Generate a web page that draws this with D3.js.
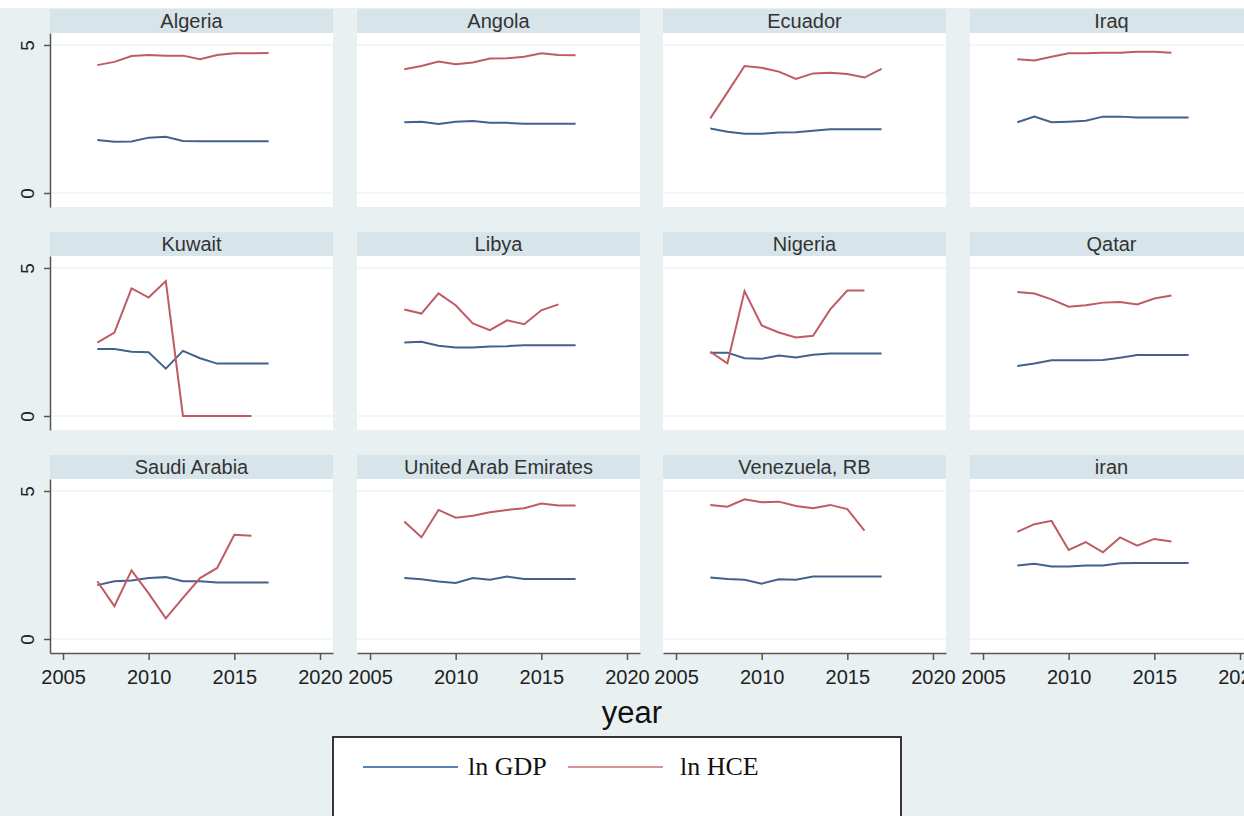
<!DOCTYPE html>
<html lang="en">
<head>
<meta charset="UTF-8">
<title>ln GDP and ln HCE by country</title>
<style>
  body { margin: 0; background: #e8f0f2; }
  svg { display: block; }
</style>
</head>
<body>
<svg id="chart" width="1244" height="816"></svg>
<script src="https://d3js.org/d3.v7.min.js"></script>
<script>
// country panels, in grid order
const countries = ["Algeria", "Angola", "Ecuador", "Iraq",
                   "Kuwait", "Libya", "Nigeria", "Qatar",
                   "Saudi Arabia", "United Arab Emirates", "Venezuela, RB", "iran"];
const years = [2007, 2008, 2009, 2010, 2011, 2012, 2013, 2014, 2015, 2016, 2017];

// ln GDP per country (2007-2017)
const gdp = [
  [1.79, 1.73, 1.74, 1.87, 1.90, 1.76, 1.75, 1.75, 1.75, 1.75, 1.75],
  [2.39, 2.41, 2.33, 2.41, 2.43, 2.37, 2.37, 2.34, 2.34, 2.34, 2.34],
  [2.18, 2.07, 2.00, 2.00, 2.04, 2.05, 2.10, 2.15, 2.15, 2.15, 2.15],
  [2.39, 2.58, 2.39, 2.41, 2.44, 2.58, 2.58, 2.55, 2.55, 2.55, 2.55],
  [2.26, 2.26, 2.17, 2.15, 1.60, 2.20, 1.95, 1.77, 1.77, 1.77, 1.77],
  [2.48, 2.51, 2.37, 2.31, 2.31, 2.35, 2.36, 2.39, 2.39, 2.39, 2.39],
  [2.14, 2.14, 1.95, 1.93, 2.04, 1.98, 2.07, 2.11, 2.11, 2.11, 2.11],
  [1.69, 1.77, 1.88, 1.88, 1.88, 1.89, 1.97, 2.06, 2.06, 2.06, 2.06],
  [1.82, 1.95, 1.98, 2.06, 2.09, 1.95, 1.95, 1.91, 1.91, 1.91, 1.91],
  [2.06, 2.02, 1.94, 1.89, 2.06, 2.00, 2.11, 2.03, 2.03, 2.03, 2.03],
  [2.08, 2.03, 2.00, 1.87, 2.02, 2.00, 2.11, 2.11, 2.11, 2.11, 2.11],
  [2.48, 2.54, 2.45, 2.45, 2.48, 2.48, 2.56, 2.57, 2.57, 2.57, 2.57]
];

// ln HCE per country (from 2007; some end in 2016)
const hce = [
  [4.32, 4.43, 4.63, 4.66, 4.64, 4.64, 4.52, 4.66, 4.72, 4.72, 4.73],
  [4.18, 4.29, 4.44, 4.35, 4.41, 4.54, 4.55, 4.60, 4.72, 4.66, 4.65],
  [2.52, 3.40, 4.29, 4.23, 4.10, 3.85, 4.04, 4.06, 4.02, 3.90, 4.19],
  [4.52, 4.48, 4.60, 4.72, 4.72, 4.74, 4.74, 4.77, 4.77, 4.74],
  [2.48, 2.82, 4.31, 4.00, 4.56, 0.00, 0.00, 0.00, 0.00, 0.00],
  [3.60, 3.46, 4.14, 3.74, 3.13, 2.90, 3.23, 3.10, 3.57, 3.77],
  [2.17, 1.78, 4.22, 3.06, 2.82, 2.65, 2.71, 3.60, 4.24, 4.24],
  [4.19, 4.14, 3.94, 3.69, 3.74, 3.83, 3.85, 3.77, 3.97, 4.07],
  [1.95, 1.11, 2.32, 1.54, 0.70, 1.39, 2.06, 2.40, 3.52, 3.49],
  [3.97, 3.44, 4.36, 4.10, 4.16, 4.28, 4.36, 4.42, 4.58, 4.51, 4.51],
  [4.53, 4.47, 4.72, 4.62, 4.64, 4.49, 4.42, 4.53, 4.39, 3.66],
  [3.62, 3.88, 3.99, 3.01, 3.27, 2.93, 3.43, 3.15, 3.38, 3.29]
];

const xTicks = [2005, 2010, 2015, 2020];
const yTicks = [0, 5];
const legendLabels = ["ln GDP", "ln HCE"];

const colors = { gdp: "#41628c", hce: "#bf5b63" };
const legendColors = ["#5b82b8", "#dc9197"];

const panelW = 283, headH = 24, plotH = 174;
const colX = [50, 357, 663, 970];
const rowY = [9, 232, 455];

const x = d3.scaleLinear().domain([2004.24, 2020.76]).range([0, panelW]);
const y = d3.scaleLinear().domain([-0.473, 5.405]).range([plotH, 0]);

const svg = d3.select("#chart");

svg.append("rect")
    .attr("width", 1244).attr("height", 816)
    .attr("fill", "#e8f0f2");
svg.append("rect")
    .attr("width", 1244).attr("height", 8)
    .attr("fill", "#ffffff");

const line = d3.line()
    .x((d, i) => x(years[i]))
    .y(d => y(d));

countries.forEach((name, k) => {
    const col = k % 4, row = Math.floor(k / 4);
    const g = svg.append("g")
        .attr("transform", `translate(${colX[col]},${rowY[row]})`);

    // strip header
    g.append("rect")
        .attr("width", panelW).attr("height", headH)
        .attr("fill", "#d7e4ea");
    g.append("text")
        .attr("x", panelW / 2).attr("y", headH / 2)
        .attr("dy", "0.36em")
        .attr("text-anchor", "middle")
        .style("font-family", "'Liberation Sans', Arial, sans-serif")
        .style("font-size", "20px")
        .style("fill", "#333")
        .text(name);

    const p = g.append("g").attr("transform", `translate(0,${headH})`);
    p.append("rect")
        .attr("width", panelW).attr("height", plotH)
        .attr("fill", "#ffffff");

    p.selectAll("line.grid")
        .data(yTicks)
        .enter().append("line")
        .attr("class", "grid")
        .attr("x1", 0).attr("x2", panelW)
        .attr("y1", d => y(d)).attr("y2", d => y(d))
        .attr("stroke", "#e5edf0")
        .attr("stroke-width", 1.2);

    p.append("path")
        .datum(gdp[k])
        .attr("d", line)
        .attr("fill", "none")
        .attr("stroke", colors.gdp)
        .attr("stroke-width", 2);

    p.append("path")
        .datum(hce[k])
        .attr("d", line)
        .attr("fill", "none")
        .attr("stroke", colors.hce)
        .attr("stroke-width", 2);

    if (col === 0) {
        const ya = p.append("g")
            .call(d3.axisLeft(y).tickValues(yTicks).tickFormat(d3.format("d"))
                .tickSize(6).tickSizeOuter(0));
        ya.select(".domain").attr("stroke", "#555").attr("stroke-width", 1.5);
        ya.selectAll(".tick line").attr("stroke", "#555").attr("stroke-width", 1.5);
        ya.selectAll(".tick text")
            .attr("x", null).attr("dy", null)
            .attr("text-anchor", "middle")
            .attr("transform", "translate(-16,0) rotate(-90)")
            .style("font-family", "'Liberation Sans', Arial, sans-serif")
            .style("font-size", "19px")
            .style("fill", "#222");
    }

    if (row === 2) {
        const xa = p.append("g")
            .attr("transform", `translate(0,${plotH})`)
            .call(d3.axisBottom(x).tickValues(xTicks).tickFormat(d3.format("d"))
                .tickSize(7).tickSizeOuter(0));
        xa.select(".domain").attr("stroke", "#555").attr("stroke-width", 1.5);
        xa.selectAll(".tick line").attr("stroke", "#555").attr("stroke-width", 1.5);
        xa.selectAll(".tick text")
            .attr("y", 17)
            .style("font-family", "'Liberation Sans', Arial, sans-serif")
            .style("font-size", "20px")
            .style("fill", "#222");
    }
});

// x title
svg.append("text")
    .attr("x", 632).attr("y", 723)
    .attr("text-anchor", "middle")
    .style("font-family", "'Liberation Sans', Arial, sans-serif")
    .style("font-size", "31px")
    .style("fill", "#111")
    .text("year");

// legend
const leg = svg.append("g");
leg.append("rect")
    .attr("x", 333).attr("y", 737)
    .attr("width", 568).attr("height", 100)
    .attr("fill", "#ffffff")
    .attr("stroke", "#222")
    .attr("stroke-width", 1.8);

const legX = [363, 568];
const legTextX = [468, 680];
legendLabels.forEach((lab, i) => {
    leg.append("line")
        .attr("x1", legX[i]).attr("x2", legX[i] + 95)
        .attr("y1", 767).attr("y2", 767)
        .attr("stroke", legendColors[i])
        .attr("stroke-width", 2);
    leg.append("text")
        .attr("x", legTextX[i]).attr("y", 775)
        .style("font-family", "'Liberation Serif', 'Times New Roman', serif")
        .style("font-size", "26px")
        .style("fill", "#111")
        .text(lab);
});
</script>
</body>
</html>
